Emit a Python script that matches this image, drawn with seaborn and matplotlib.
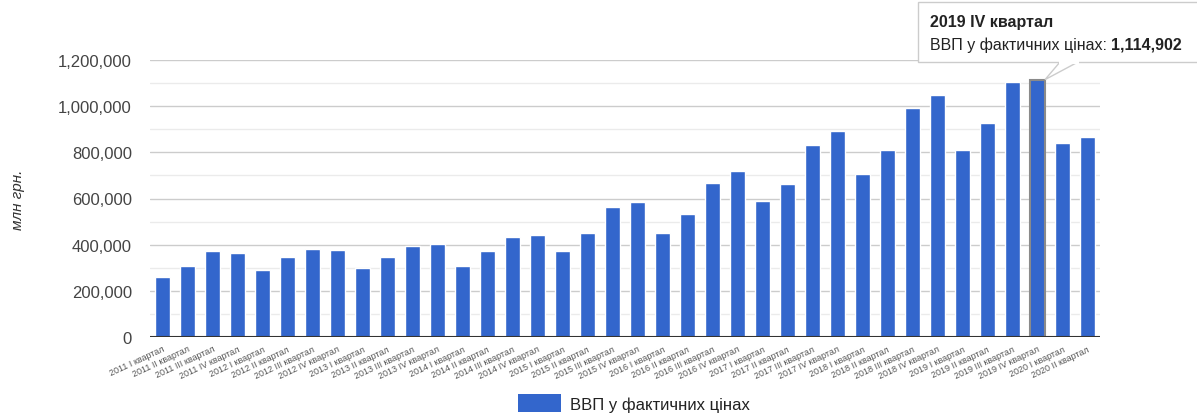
import numpy as np
import pandas as pd
import matplotlib
matplotlib.use('Agg')
import matplotlib.pyplot as plt
import seaborn as sns
from matplotlib.patches import Rectangle, Polygon
from matplotlib.ticker import MultipleLocator, FuncFormatter

years = ['2011'] * 4 + ['2012'] * 4 + ['2013'] * 4 + ['2014'] * 4 + ['2015'] * 4 + \
        ['2016'] * 4 + ['2017'] * 4 + ['2018'] * 4 + ['2019'] * 4 + ['2020'] * 2
roman = ['I', 'II', 'III', 'IV']
quarters = [f"{y} {roman[i % 4]} квартал" for i, y in enumerate(years)]

gdp = [260397, 309500, 372500, 362500,
       290000, 348000, 382600, 378000,
       299000, 348000, 392700, 401400,
       309000, 372500, 431700, 440400,
       372500, 450500, 563000, 583400,
       450500, 532800, 665600, 719000,
       587700, 661400, 831700, 890900,
       704700, 808600, 993500, 1047000,
       808600, 925600, 1106000, 1114902,
       841800, 866400]

series_name = 'ВВП у фактичних цінах'
y_label = 'млн грн.'
hl_idx = 35

df = pd.DataFrame({'quarter': quarters, 'gdp': gdp})

sns.set_style('white')
plt.rcParams['font.family'] = ['Liberation Sans', 'DejaVu Sans']

W, H = 1197, 414
fig = plt.figure(figsize=(W / 100, H / 100), dpi=100)
ax = fig.add_axes([150 / W, 1 - 338 / H, 950 / W, 277 / H])

blue = '#3366CC'
sns.barplot(data=df, x='quarter', y='gdp', color=blue, saturation=1, width=0.6,
            ax=ax, zorder=3)

# highlighted bar (hover state)
ax.patches[hl_idx].set_edgecolor('#8a8a8a')
ax.patches[hl_idx].set_linewidth(1.5)

ax.set_xlim(-0.5, len(quarters) - 0.5)
ax.set_ylim(0, 1200000)
ax.yaxis.set_major_locator(MultipleLocator(200000))
ax.yaxis.set_minor_locator(MultipleLocator(100000))
ax.yaxis.set_major_formatter(FuncFormatter(lambda v, p: f"{int(v):,}"))
ax.grid(axis='y', which='major', color='#cccccc', lw=1, zorder=0)
ax.grid(axis='y', which='minor', color='#ebebeb', lw=1, zorder=0)
ax.axhline(0, color='#333333', lw=1.5, zorder=4)
for s in ax.spines.values():
    s.set_visible(False)

ax.tick_params(axis='y', which='both', length=0, pad=13, labelsize=12, labelcolor='#444444')
ax.tick_params(axis='x', length=0, pad=5)
ax.set_xticks(range(len(quarters)))
ax.set_xticklabels(quarters, rotation=25, ha='right', rotation_mode='anchor',
                   fontsize=6.5, color='#555555')
ax.set_xlabel('')
ax.set_ylabel('')
fig.text(18 / W, 1 - 200 / H, y_label, rotation=90, style='italic', fontsize=11,
         color='#333333', ha='center', va='center')

# legend
fig.legend(handles=[ax.patches[0]], labels=[series_name], loc='center left',
           bbox_to_anchor=(503 / W, 1 - 404 / H), frameon=False, fontsize=12,
           handlelength=2.6, handleheight=1.3, handletextpad=0.5,
           labelcolor='#222222')
leg = fig.legends[0]
leg.legend_handles[0].set_edgecolor('none')
leg.legend_handles[0].set_linewidth(0)

# tooltip
fig.canvas.draw()
tip = ax.transData.transform((hl_idx + 0.3, gdp[hl_idx]))
tip = fig.transFigure.inverted().transform(tip)
box = Rectangle((918 / W, 1 - 63 / H), 300 / W, 60 / H, transform=fig.transFigure,
                facecolor='white', edgecolor='#cccccc', lw=1, zorder=10)
fig.add_artist(box)
ptr = Polygon([(1060 / W, 1 - 63 / H), tip, (1078 / W, 1 - 63 / H)], closed=False,
              transform=fig.transFigure, facecolor='white', edgecolor='#cccccc',
              lw=1, zorder=11)
fig.add_artist(ptr)
fig.add_artist(Rectangle((1059 / W, 1 - 64.5 / H), 20 / W, 3 / H, transform=fig.transFigure,
                         facecolor='white', edgecolor='none', zorder=12))
fig.text(930 / W, 1 - 23 / H, quarters[hl_idx], fontsize=11.5, fontweight='bold',
         color='#222222', va='center', zorder=13)
t1 = fig.text(930 / W, 1 - 45 / H, series_name + ': ', fontsize=11.5,
              color='#222222', va='center', zorder=13)
fig.canvas.draw()
bb = t1.get_window_extent()
fig.text(bb.x1 / W, 1 - 45 / H, f"{gdp[hl_idx]:,}", fontsize=11.5, fontweight='bold',
         color='#222222', va='center', zorder=13)

fig.savefig('out.png', dpi=100, facecolor='white')
